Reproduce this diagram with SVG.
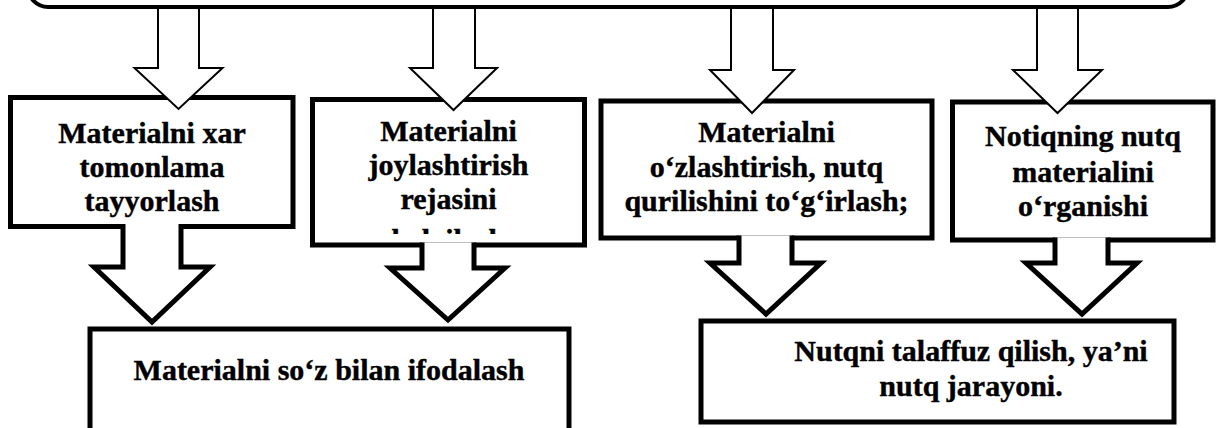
<svg xmlns="http://www.w3.org/2000/svg" width="1222" height="428" viewBox="0 0 1222 428">
<style>
.box{fill:#fff;stroke:#000;stroke-width:5}
.topbox{fill:#fff;stroke:#000;stroke-width:4}
.thin{fill:#fff;stroke:#000;stroke-width:2;stroke-linejoin:miter}
.thick{fill:#fff;stroke:#000;stroke-width:5;stroke-linejoin:miter}
.t{font-family:"Liberation Serif","Times New Roman",serif;font-weight:bold;font-size:30px;text-anchor:middle;fill:#000;stroke:#000;stroke-width:0.4}
</style>
<defs>
<clipPath id="c2"><rect x="315" y="102" width="267" height="132"/></clipPath>
</defs>
<rect width="1222" height="428" fill="#fff"/>
<g id="top">
<rect class="topbox" x="28" y="-80" width="1160" height="87" rx="20"/>
</g>
<g id="n1">
<rect class="box" x="10.5" y="97.5" width="282.5" height="129"/>
<text class="t" x="152" y="143">Materialni xar</text>
<text class="t" x="152" y="177">tomonlama</text>
<text class="t" x="152" y="211">tayyorlash</text>
</g>
<g id="n2">
<rect class="box" x="312.5" y="99.5" width="272" height="145.5"/>
<g clip-path="url(#c2)">
<text class="t" x="448.5" y="141">Materialni</text>
<text class="t" x="448.5" y="175">joylashtirish</text>
<text class="t" x="448.5" y="209">rejasini</text>
<text class="t" x="448.5" y="250">belgilash</text>
</g>
</g>
<g id="n3">
<rect class="box" x="601" y="101" width="331" height="137"/>
<text class="t" x="766.5" y="142">Materialni</text>
<text class="t" x="766.5" y="177">o‘zlashtirish, nutq</text>
<text class="t" x="766.5" y="211">qurilishini to‘g‘irlash;</text>
</g>
<g id="n4">
<rect class="box" x="952.5" y="102" width="260.5" height="138"/>
<text class="t" x="1083" y="146">Notiqning nutq</text>
<text class="t" x="1083" y="182">materialini</text>
<text class="t" x="1083" y="216">o‘rganishi</text>
</g>
<g id="n5">
<rect class="box" x="90" y="329" width="479" height="120"/>
<text class="t" x="329" y="380">Materialni so‘z bilan ifodalash</text>
</g>
<g id="n6">
<rect class="box" x="701" y="321" width="473" height="101"/>
<text class="t" x="971" y="361">Nutqni talaffuz qilish, ya’ni</text>
<text class="t" x="971" y="396">nutq jarayoni.</text>
</g>
<g id="connectors">
<path class="thin" d="M158,9 L158,68 L134.5,68 L178.5,109 L222.5,68 L199,68 L199,9"/>
<path class="thin" d="M433,9 L433,68 L410,68 L453.5,110 L497,68 L475,68 L475,9"/>
<path class="thin" d="M731,9 L731,70 L710,70 L752,113 L794,70 L773,70 L773,9"/>
<path class="thin" d="M1037,9 L1037,70 L1013,70 L1057.5,113 L1102,70 L1078,70 L1078,9"/>
<path class="thick" d="M123,224 L123,267 L94,267 L152,322 L210,267 L181,267 L181,224"/>
<path class="thick" d="M422,242.5 L422,268 L390,268 L448,320 L505,268 L474,268 L474,242.5"/>
<path class="thick" d="M739,235.5 L739,263 L710,263 L766,314 L821,263 L792,263 L792,235.5"/>
<path class="thick" d="M1055,237.5 L1055,263 L1026,263 L1082,314 L1137,263 L1108,263 L1108,237.5"/>
</g>
</svg>
